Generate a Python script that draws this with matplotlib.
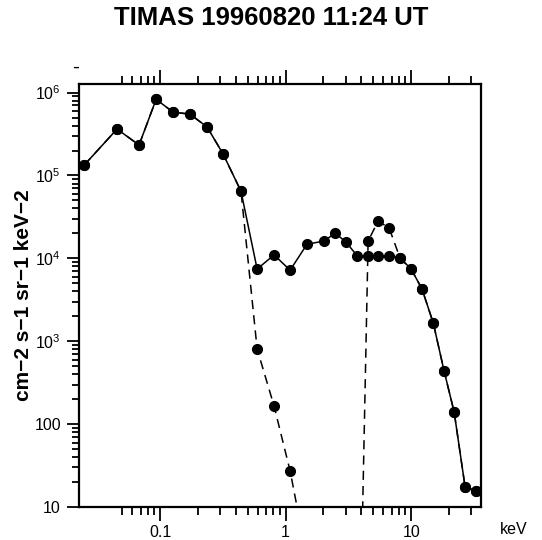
import matplotlib
matplotlib.use("Agg")
import matplotlib.pyplot as plt
from matplotlib.ticker import FixedLocator, NullFormatter

plt.rcParams['font.family'] = ['Liberation Sans', 'DejaVu Sans']

# energies (keV) of the measurement channels
energy = [0.0248, 0.0454, 0.068, 0.093, 0.127, 0.173, 0.237, 0.318, 0.441,
          0.593, 0.809, 1.086, 1.48, 2.03, 2.48, 3.03, 3.72, 4.54, 5.46,
          6.68, 8.17, 10.0, 12.2, 15.0, 18.3, 22.0, 26.9, 33.0]

# total spectrum (solid)
total = [1.33e5, 3.63e5, 2.33e5, 8.3e5, 5.8e5, 5.5e5, 3.84e5, 1.81e5, 6.46e4,
         7.43e3, 1.1e4, 7.2e3, 1.48e4, 1.62e4, 2.02e4, 1.57e4, 1.07e4, 1.07e4,
         1.07e4, 1.07e4, 1.01e4, 7.43e3, 4.27e3, 1.66e3, 437, 140, 17.4, 15.6]

# low energy component (dashed)
low_energy = energy[:13]
low_flux = [1.33e5, 3.63e5, 2.33e5, 8.3e5, 5.8e5, 5.5e5, 3.84e5, 1.81e5, 6.46e4,
            806, 165, 27.2, 2.4]

# high energy component (dashed)
high_energy = energy[16:]
high_flux = [0.006, 1.62e4, 2.82e4, 2.32e4, 1.0e4, 7.43e3, 4.27e3, 1.66e3,
             437, 140, 17.4, 15.6]

fig = plt.figure(figsize=(5.42, 5.40), dpi=100)
ax = fig.add_axes([79/542, 1-507/540, 402/542, 423/540])

dash = (0, (6, 4))
ax.plot(low_energy, low_flux, color='k', lw=1.1, ls=dash, marker='o', ms=7)
ax.plot(high_energy, high_flux, color='k', lw=1.1, ls=dash, marker='o', ms=7)
ax.plot(energy, total, color='k', lw=1.1, marker='o', ms=7)

ax.set_xscale('log')
ax.set_yscale('log')
ax.set_xlim(0.0226, 36)
ax.set_ylim(10, 1.27e6)

ax.xaxis.set_major_locator(FixedLocator([0.1, 1, 10]))
ax.xaxis.set_minor_locator(FixedLocator(
    [0.05, 0.06, 0.07, 0.08, 0.09] + [m/10 for m in range(2, 10)]
    + list(range(2, 10)) + [20, 30]))
ax.set_xticklabels(['0.1', '1', '10'])
ax.xaxis.set_minor_formatter(NullFormatter())

ax.yaxis.set_major_locator(FixedLocator([10, 100, 1e3, 1e4, 1e5, 1e6]))
ax.set_yticklabels(['10', '100', r'$\mathregular{10^3}$', r'$\mathregular{10^4}$',
                    r'$\mathregular{10^5}$', r'$\mathregular{10^6}$'])
ax.yaxis.set_minor_formatter(NullFormatter())

ax.tick_params(axis='x', which='both', direction='out', top=True, bottom=True,
               labelsize=11.5, width=1.3, pad=3)
ax.tick_params(axis='x', which='major', length=10)
ax.tick_params(axis='x', which='minor', length=6)
ax.tick_params(axis='y', which='both', direction='out', left=True, right=False,
               labelsize=11.5, width=1.3, pad=4)
ax.tick_params(axis='y', which='major', length=9)
ax.tick_params(axis='y', which='minor', length=5)

for s in ax.spines.values():
    s.set_linewidth(1.6)

ax.set_ylabel('cm\u22122 s\u22121 sr\u22121 keV\u22122', fontsize=15,
              fontweight='bold')
ax.yaxis.set_label_coords(-0.115, 0.5)

fig.text(514/542, 1-529/540, 'keV', fontsize=11.5, ha='center', va='center')
fig.text(76/542, 1-67/540, '-', fontsize=15, ha='center', va='center')
fig.suptitle('TIMAS 19960820 11:24 UT', fontsize=18.5, fontweight='bold',
             y=1-18/540, va='center')

fig.savefig('out.png', dpi=100)
